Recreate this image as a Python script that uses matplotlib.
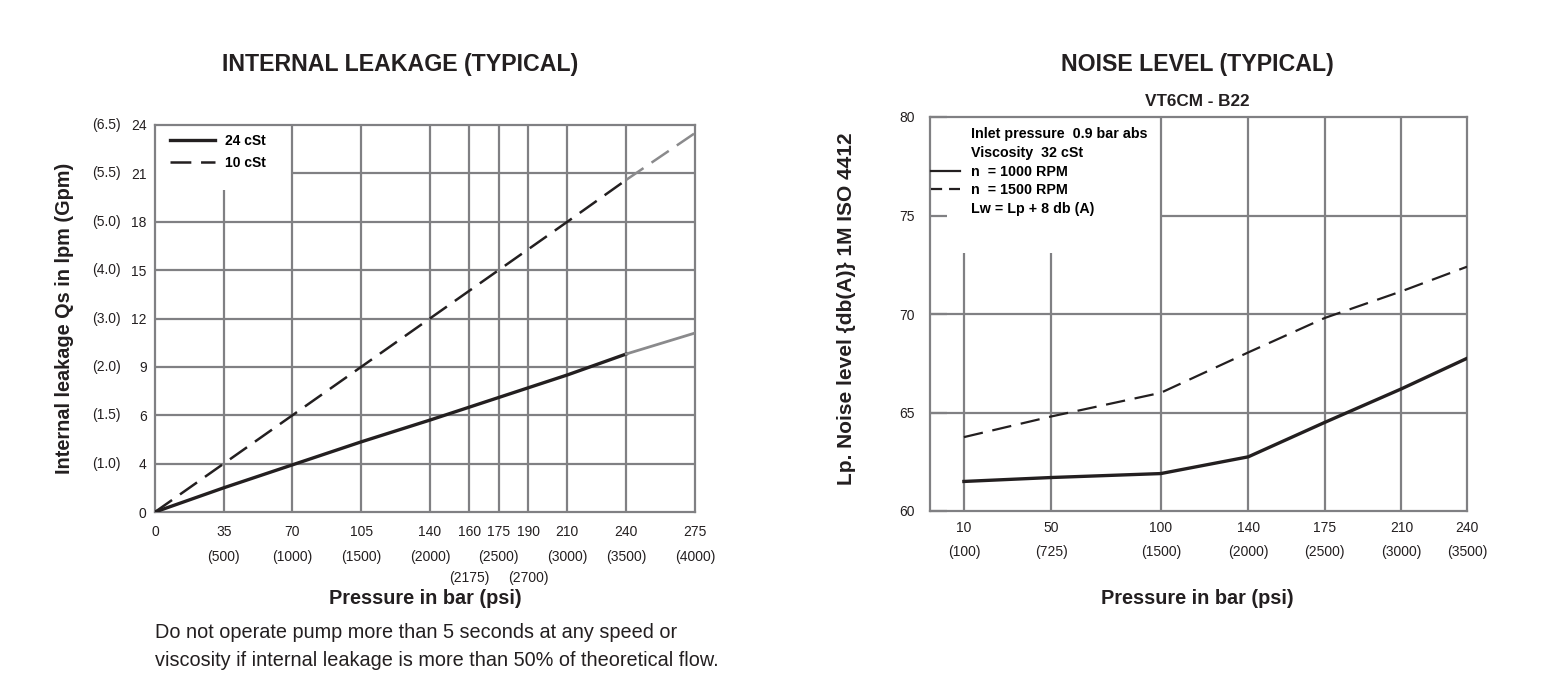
import matplotlib
matplotlib.use('Agg')
import matplotlib.pyplot as plt
import numpy as np
from matplotlib.lines import Line2D

plt.rcParams['font.family'] = ['Liberation Sans', 'DejaVu Sans']
plt.rcParams['lines.scale_dashes'] = False

# ---- internal leakage data (bar -> lpm) ----
leak_lpm_ticks = [0, 4, 6, 9, 12, 15, 18, 21, 24]
leak_gpm_labels = ['', '(1.0)', '(1.5)', '(2.0)', '(3.0)', '(4.0)', '(5.0)', '(5.5)', '(6.5)']
leak_bar_ticks = [0, 35, 70, 105, 140, 160, 175, 190, 210, 240, 275]
leak_psi_labels = ['', '(500)', '(1000)', '(1500)', '(2000)', '(2175)', '(2500)',
                   '(2700)', '(3000)', '(3500)', '(4000)']
leak_psi_lower = ['(2175)', '(2700)']

cst24_bar = [0, 35, 70, 105, 140, 175, 210, 240]
cst24_lpm = [0, 2.0, 3.9, 4.9, 5.8, 7.1, 8.5, 9.8]
cst24_ext_bar = [240, 275]
cst24_ext_lpm = [9.8, 11.1]

cst10_bar = [0, 35, 70, 105, 140, 175, 210, 240]
cst10_lpm = [0, 4, 6, 9, 12, 15, 18, 20.6]
cst10_ext_bar = [240, 275]
cst10_ext_lpm = [20.6, 23.5]

# ---- noise level data (bar -> db(A)) ----
noise_bar = [10, 50, 100, 140, 175, 210, 240]
noise_psi_labels = ['(100)', '(725)', '(1500)', '(2000)', '(2500)', '(3000)', '(3500)']
noise_db_ticks = [60, 65, 70, 75, 80]
rpm1000_db = [61.5, 61.7, 61.9, 62.75, 64.5, 66.2, 67.75]
rpm1500_db = [63.75, 64.8, 66.0, 68.05, 69.8, 71.15, 72.4]

W, H = 1551, 681
ink = '#231f20'
gridc = '#808083'
gray_line = '#8a8a8c'


def fx(px):
    return px / W


def fy(py):
    return 1 - py / H


fig = plt.figure(figsize=(W / 100, H / 100), dpi=100)

# ================= left chart =================
ax1 = fig.add_axes([fx(155), fy(512), (695 - 155) / W, (512 - 125) / H])

pos = np.arange(len(leak_lpm_ticks))


def fwd(v):
    return np.interp(v, leak_lpm_ticks, pos)


def inv(p):
    return np.interp(p, pos, leak_lpm_ticks)


# y axis is evenly spaced between uneven lpm ticks
ax1.set_yscale('function', functions=(fwd, inv))
ax1.set_xlim(0, 275)
ax1.set_ylim(0, 24)

# grid (some lines cut short around the legend)
vg_x = [35, 70, 105, 140, 160, 175, 190, 210, 240]
vg_top = [20, 24, 24, 24, 24, 24, 24, 24, 24]
ax1.vlines(vg_x, 0, vg_top, color=gridc, lw=1.6, zorder=1)
hg_y = [4, 6, 9, 12, 15, 18, 21]
hg_start = [0, 0, 0, 0, 0, 0, 70]
ax1.hlines(hg_y, hg_start, 275, color=gridc, lw=1.6, zorder=1)

ax1.plot(cst24_bar, cst24_lpm, color=ink, lw=2.4, label='24 cSt', zorder=3)
ax1.plot(cst24_ext_bar, cst24_ext_lpm, color=gray_line, lw=2.0, zorder=3)
ax1.plot(cst10_bar, cst10_lpm, color=ink, lw=1.8, dashes=(15, 7), label='10 cSt', zorder=3)
ax1.plot(cst10_ext_bar, cst10_ext_lpm, color=gray_line, lw=1.8, dashes=(15, 7), zorder=3)

for s in ax1.spines.values():
    s.set_color(gridc)
    s.set_linewidth(1.6)

ax1.set_yticks(leak_lpm_ticks)
ax1.set_yticklabels([str(v) for v in leak_lpm_ticks])
ax1.yaxis.set_minor_locator(plt.NullLocator())
ax1.set_xticks(leak_bar_ticks)
ax1.set_xticklabels([str(v) for v in leak_bar_ticks])
ax1.tick_params(axis='y', length=0, pad=6, labelsize=10, labelcolor=ink)
ax1.tick_params(axis='x', length=0, pad=9.5, labelsize=10, labelcolor=ink)

for v, g in zip(leak_lpm_ticks, leak_gpm_labels):
    ax1.text(-0.117, v, g, transform=ax1.get_yaxis_transform(), ha='left', va='center',
             fontsize=10, color=ink)

for b, p in zip(leak_bar_ticks, leak_psi_labels):
    yy = -0.170 if p in leak_psi_lower else -0.116
    ax1.text(b, yy, p, transform=ax1.get_xaxis_transform(), ha='center', va='center',
             fontsize=10, color=ink)

ax1.legend(loc='upper left', bbox_to_anchor=(0.027, 0.977), frameon=False,
           prop={'weight': 'bold', 'size': 10}, handlelength=3.24,
           handletextpad=0.72, labelspacing=0.58, borderpad=0, borderaxespad=0)

# ================= right chart =================
ax2 = fig.add_axes([fx(930), fy(511), (1467 - 930) / W, (511 - 117) / H])
ax2.set_xlim(-5.5, 240)
ax2.set_ylim(60, 80)

vg2_x = [10, 50, 100, 140, 175, 210]
vg2_top = [73.1, 73.1, 80, 80, 80, 80]
ax2.vlines(vg2_x, 60, vg2_top, color=gridc, lw=1.6, zorder=1)
hg2_y = [65, 70, 75]
hg2_start = [-5.5, -5.5, 100]
ax2.hlines(hg2_y, hg2_start, 240, color=gridc, lw=1.6, zorder=1)

ax2.plot(noise_bar, rpm1000_db, color=ink, lw=2.4, zorder=3)
ax2.plot(noise_bar, rpm1500_db, color=ink, lw=1.6, dashes=(14, 7), zorder=3)

for s in ax2.spines.values():
    s.set_color(gridc)
    s.set_linewidth(1.6)

ax2.set_yticks(noise_db_ticks)
ax2.set_xticks(noise_bar)
ax2.tick_params(axis='y', direction='in', length=12.5, width=1.6, color=gridc, pad=11,
                labelsize=10, labelcolor=ink)
ax2.tick_params(axis='x', length=0, pad=7, labelsize=10, labelcolor=ink)

for b, p in zip(noise_bar, noise_psi_labels):
    ax2.text(b, -0.104, p, transform=ax2.get_xaxis_transform(), ha='center', va='center',
             fontsize=10, color=ink)

handles = [Line2D([], [], alpha=0), Line2D([], [], alpha=0),
           Line2D([], [], color=ink, lw=1.6),
           Line2D([], [], color=ink, lw=1.6, dashes=(8, 5)),
           Line2D([], [], alpha=0)]
labels = ['Inlet pressure  0.9 bar abs', 'Viscosity  32 cSt', 'n  = 1000 RPM',
          'n  = 1500 RPM', 'Lw = Lp + 8 db (A)']
ax2.legend(handles, labels, loc='upper left', bbox_to_anchor=(0.002, 0.974), frameon=False,
           prop={'weight': 'bold', 'size': 10.3}, handlelength=2.0, handletextpad=0.82,
           labelspacing=0.33, borderpad=0, borderaxespad=0)

# ================= titles & labels =================
fig.text(fx(400), fy(65), 'INTERNAL LEAKAGE (TYPICAL)', ha='center', va='center',
         fontsize=16.7, fontweight='bold', color=ink)
fig.text(fx(1197), fy(65), 'NOISE LEVEL (TYPICAL)', ha='center', va='center',
         fontsize=16.7, fontweight='bold', color=ink)
fig.text(fx(1197), fy(101), 'VT6CM - B22', ha='center', va='center',
         fontsize=12.3, fontweight='bold', color=ink)
fig.text(fx(425), fy(598), 'Pressure in bar (psi)', ha='center', va='center',
         fontsize=14.3, fontweight='bold', color=ink)
fig.text(fx(1197), fy(598), 'Pressure in bar (psi)', ha='center', va='center',
         fontsize=14.3, fontweight='bold', color=ink)
fig.text(fx(65), fy(318), 'Internal leakage Qs in lpm (Gpm)', ha='center', va='center',
         rotation=90, fontsize=14.3, fontweight='bold', color=ink)
fig.text(fx(847), fy(309), 'Lp. Noise level {db(A)} 1M ISO 4412', ha='center', va='center',
         rotation=90, fontsize=15, fontweight='bold', color=ink)

fig.text(fx(155), fy(633), 'Do not operate pump more than 5 seconds at any speed or',
         ha='left', va='center', fontsize=14.3, color=ink)
fig.text(fx(155), fy(660), 'viscosity if internal leakage is more than 50% of theoretical flow.',
         ha='left', va='center', fontsize=14.3, color=ink)

plt.savefig('out.png', dpi=100)
plt.close('all')
